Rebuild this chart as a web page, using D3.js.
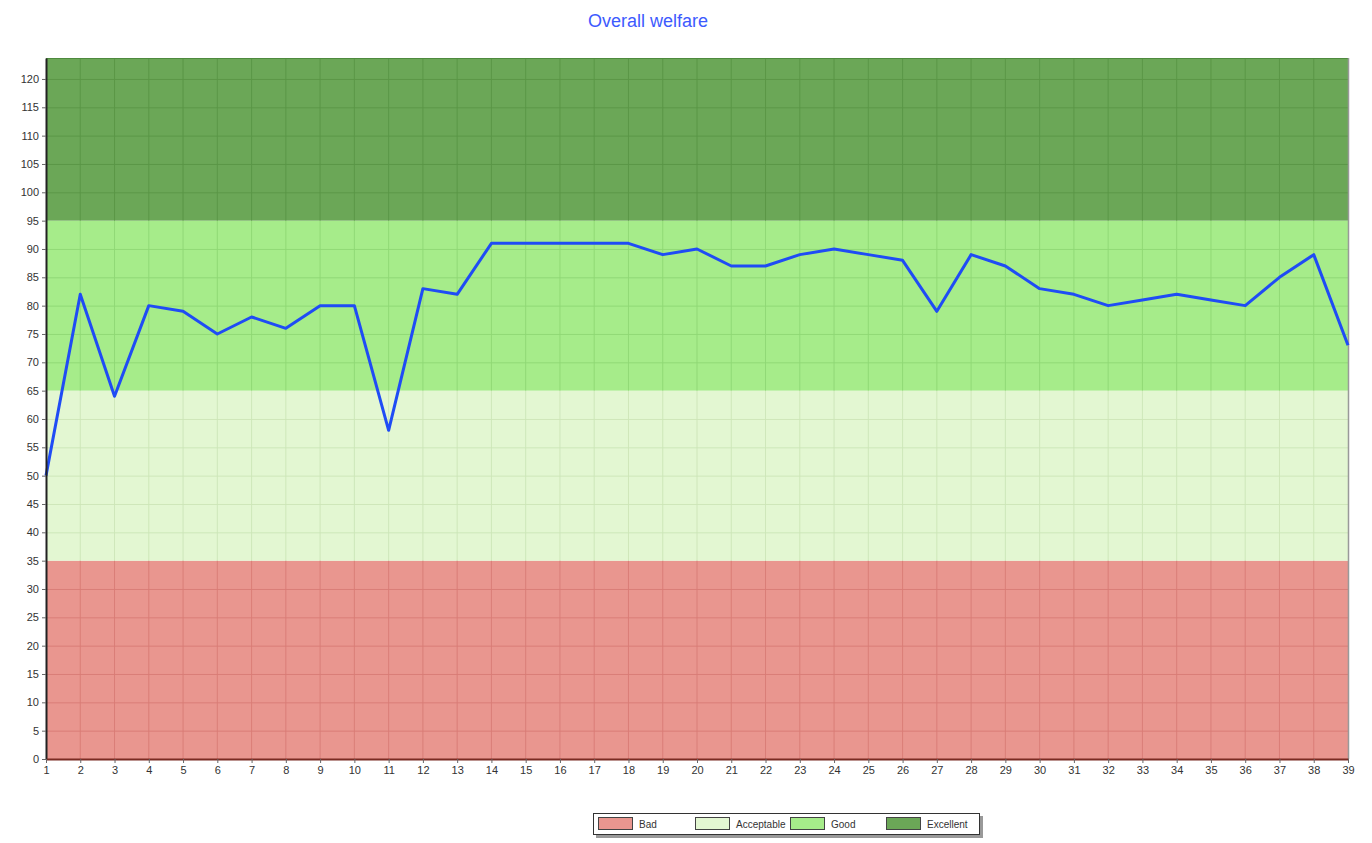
<!DOCTYPE html>
<html><head><meta charset="utf-8">
<script src="https://cdn.jsdelivr.net/npm/d3@7/dist/d3.min.js"></script>
<style>body{margin:0;background:#fff;}svg{display:block;font-family:Arial,"Liberation Sans",sans-serif;}</style>
</head><body>
<svg id="chart" width="1372" height="843"></svg>
<script>
const categories = d3.range(1, 40);
const welfare = [50,82,64,80,79,75,78,76,80,80,58,83,82,91,91,91,91,91,89,90,87,87,89,90,89,88,79,89,87,83,82,80,81,82,81,80,85,89,73];
const bandNames = ["Bad","Acceptable","Good","Excellent"];
const bandFrom = [0,35,65,95];
const bandTo = [35,65,95,123.7];
const bandColors = ["#e9968f","#e3f7d2","#a6ec8a","#6ba757"];
const gridColors = ["#d97c76","#cde6b8","#8fd875","#5a9646"];
const yTicks = d3.range(0, 121, 5);

const svg = d3.select("#chart");
const m = {l:46, r:1348, t:58, b:759};
const x = d3.scaleLinear().domain([1,39]).range([m.l, m.r]);
const y = d3.scaleLinear().domain([0,123.7]).range([m.b, m.t]);

svg.append("text").attr("x",648).attr("y",27).attr("text-anchor","middle")
  .attr("font-size",18).attr("fill","#3d5afe").text("Overall welfare");

const bands = bandNames.map((n,i)=>({n, from:bandFrom[i], to:bandTo[i], c:bandColors[i], g:gridColors[i]}));
svg.append("g").selectAll("rect").data(bands).join("rect")
  .attr("x", m.l).attr("width", m.r-m.l)
  .attr("y", d=>y(d.to)).attr("height", d=>y(d.from)-y(d.to))
  .attr("fill", d=>d.c);

bands.forEach((b,i)=>{
  const g = svg.append("g");
  g.selectAll("line.v").data(categories.slice(1,-1)).join("line")
    .attr("x1",d=>x(d)).attr("x2",d=>x(d))
    .attr("y1",y(b.to)).attr("y2",y(b.from))
    .attr("stroke",b.g).attr("stroke-width",1).attr("opacity",0.9);
  g.selectAll("line.h").data(yTicks.filter(t=>t>b.from && t<b.to)).join("line")
    .attr("x1",m.l).attr("x2",m.r)
    .attr("y1",d=>y(d)+0.5).attr("y2",d=>y(d)+0.5)
    .attr("stroke",b.g).attr("stroke-width",1).attr("opacity",0.9);
});

svg.append("line").attr("x1",m.l).attr("x2",m.r).attr("y1",m.t+0.5).attr("y2",m.t+0.5).attr("stroke","#4e8a3e").attr("stroke-width",1);
svg.append("line").attr("x1",m.r+0.5).attr("x2",m.r+0.5).attr("y1",m.t).attr("y2",m.b).attr("stroke","#999").attr("stroke-width",1.5);

const line = d3.line().x((d,i)=>x(categories[i])).y(d=>y(d));
svg.append("path").datum(welfare).attr("d",line).attr("fill","none")
  .attr("stroke","#1f4cf5").attr("stroke-width",3).attr("stroke-linejoin","round");

const yAxis = d3.axisLeft(y).tickValues(yTicks).tickSize(4).tickSizeOuter(0).tickPadding(3);
const gy = svg.append("g").attr("transform",`translate(${m.l},0)`).call(yAxis);
gy.select(".domain").attr("stroke","#222").attr("stroke-width",2);
gy.selectAll(".tick line").attr("stroke","#666");
gy.selectAll("text").attr("font-size",11).attr("fill","#333");

const xAxis = d3.axisBottom(x).tickValues(categories).tickFormat(d3.format("d")).tickSize(4).tickSizeOuter(0).tickPadding(3);
const gx = svg.append("g").attr("transform",`translate(0,${m.b})`).call(xAxis);
gx.select(".domain").attr("stroke","#7a2a22").attr("stroke-width",2);
gx.selectAll(".tick line").attr("stroke","#666");
gx.selectAll("text").attr("font-size",11).attr("fill","#333");

const lg = svg.append("g");
lg.append("rect").attr("x",596).attr("y",816).attr("width",387).attr("height",22).attr("fill","#555").attr("opacity",0.6);
lg.append("rect").attr("x",593.5).attr("y",813.5).attr("width",386).attr("height",21).attr("fill","#fff").attr("stroke","#333");
const sw = [598, 695, 790, 886];
bands.forEach((b,i)=>{
  lg.append("rect").attr("x",sw[i]+0.5).attr("y",817.5).attr("width",34).attr("height",12).attr("fill",b.c).attr("stroke","#444");
  lg.append("text").attr("x",sw[i]+41).attr("y",828).attr("font-size",10).attr("fill","#333").text(b.n);
});
</script>
</body></html>
